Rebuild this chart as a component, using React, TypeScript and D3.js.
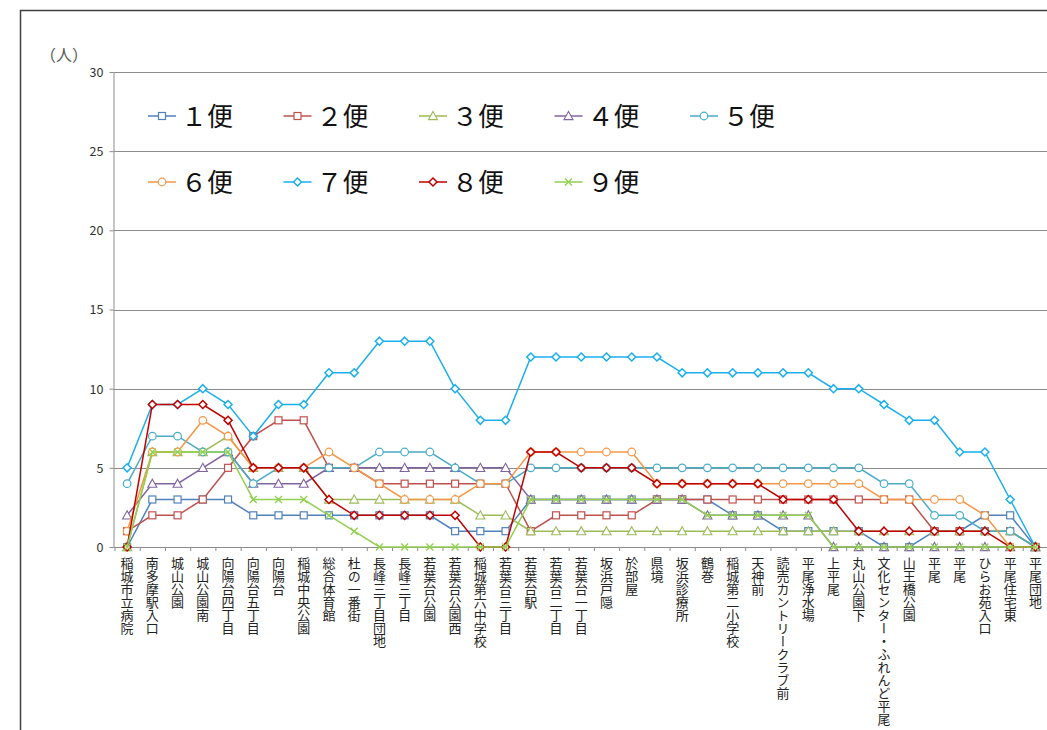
import React, { useEffect, useRef } from 'react';
import * as d3 from 'd3';

const stops = [
  '稲城市立病院', '南多摩駅入口', '城山公園', '城山公園南', '向陽台四丁目', '向陽台五丁目', '向陽台',
  '稲城中央公園', '総合体育館', '杜の一番街', '長峰三丁目団地', '長峰三丁目', '若葉台公園', '若葉台公園西',
  '稲城第六中学校', '若葉台三丁目', '若葉台駅', '若葉台二丁目', '若葉台一丁目', '坂浜戸隠', '於部屋', '県境',
  '坂浜診療所', '鶴巻', '稲城第二小学校', '天神前', '読売カントリークラブ前', '平尾浄水場', '上平尾',
  '丸山公園下', '文化センター・ふれんど平尾', '山王橋公園', '平尾', '平尾 ', 'ひらお苑入口', '平尾住宅東', '平尾団地',
];

const bin1 = [0, 3, 3, 3, 3, 2, 2, 2, 2, 2, 2, 2, 2, 1, 1, 1, 3, 3, 3, 3, 3, 3, 3, 3, 2, 2, 1, 1, 1, 1, 0, 0, 1, 1, 2, 2, 0];
const bin2 = [1, 2, 2, 3, 5, 7, 8, 8, 5, 5, 4, 4, 4, 4, 4, 4, 1, 2, 2, 2, 2, 3, 3, 3, 3, 3, 3, 3, 3, 3, 3, 3, 1, 1, 1, 1, 0];
const bin3 = [0, 6, 6, 6, 7, 5, 5, 5, 3, 3, 3, 3, 3, 3, 2, 2, 1, 1, 1, 1, 1, 1, 1, 1, 1, 1, 1, 1, 1, 1, 1, 1, 1, 1, 1, 1, 0];
const bin4 = [2, 4, 4, 5, 6, 4, 4, 4, 5, 5, 5, 5, 5, 5, 5, 5, 3, 3, 3, 3, 3, 3, 3, 2, 2, 2, 2, 2, 0, 0, 0, 0, 0, 0, 0, 0, 0];
const bin5 = [4, 7, 7, 6, 6, 4, 5, 5, 5, 5, 6, 6, 6, 5, 4, 4, 5, 5, 5, 5, 5, 5, 5, 5, 5, 5, 5, 5, 5, 5, 4, 4, 2, 2, 1, 1, 0];
const bin6 = [1, 6, 6, 8, 7, 5, 5, 5, 6, 5, 4, 3, 3, 3, 4, 4, 6, 6, 6, 6, 6, 4, 4, 4, 4, 4, 4, 4, 4, 4, 3, 3, 3, 3, 2, 0, 0];
const bin7 = [5, 9, 9, 10, 9, 7, 9, 9, 11, 11, 13, 13, 13, 10, 8, 8, 12, 12, 12, 12, 12, 12, 11, 11, 11, 11, 11, 11, 10, 10, 9, 8, 8, 6, 6, 3, 0];
const bin8 = [0, 9, 9, 9, 8, 5, 5, 5, 3, 2, 2, 2, 2, 2, 0, 0, 6, 6, 5, 5, 5, 4, 4, 4, 4, 4, 3, 3, 3, 1, 1, 1, 1, 1, 1, 0, 0];
const bin9 = [0, 6, 6, 6, 6, 3, 3, 3, 2, 1, 0, 0, 0, 0, 0, 0, 3, 3, 3, 3, 3, 3, 3, 2, 2, 2, 2, 2, 0, 0, 0, 0, 0, 0, 0, 0, 0];

const seriesNames = ['１便', '２便', '３便', '４便', '５便', '６便', '７便', '８便', '９便'];
const seriesValues = [bin1, bin2, bin3, bin4, bin5, bin6, bin7, bin8, bin9];
const seriesColors = ['#4F81BD', '#C0504D', '#9BBB59', '#8064A2', '#4BACC6', '#F79646', '#1AAFEF', '#C00000', '#92D050'];
const seriesMarkers = ['square', 'square', 'triangle', 'triangle', 'circle', 'circle', 'diamond', 'diamond', 'cross'];
const yTicks = [0, 5, 10, 15, 20, 25, 30];

const FONT = '"Noto Sans CJK JP", "Noto Sans", sans-serif';

function drawMarker(g: any, kind: string, cx: number, cy: number, color: string, size = 1) {
  if (kind === 'square') {
    const s = 7 * size;
    g.append('rect').attr('x', cx - s / 2).attr('y', cy - s / 2).attr('width', s).attr('height', s)
      .attr('fill', '#fff').attr('stroke', color).attr('stroke-width', 1.2);
  } else if (kind === 'circle') {
    g.append('circle').attr('cx', cx).attr('cy', cy).attr('r', 3.8 * size)
      .attr('fill', '#fff').attr('stroke', color).attr('stroke-width', 1.2);
  } else if (kind === 'triangle') {
    const s = 4.5 * size;
    g.append('path').attr('d', `M${cx},${cy - s} L${cx + s},${cy + s * 0.8} L${cx - s},${cy + s * 0.8} Z`)
      .attr('fill', '#fff').attr('stroke', color).attr('stroke-width', 1.1);
  } else if (kind === 'diamond') {
    const s = 4 * size;
    g.append('path').attr('d', `M${cx},${cy - s} L${cx + s},${cy} L${cx},${cy + s} L${cx - s},${cy} Z`)
      .attr('fill', '#fff').attr('stroke', color).attr('stroke-width', 1.5);
  } else {
    const s = 3.5 * size;
    g.append('path').attr('d', `M${cx - s},${cy - s} L${cx + s},${cy + s} M${cx - s},${cy + s} L${cx + s},${cy - s}`)
      .attr('fill', 'none').attr('stroke', color).attr('stroke-width', 1.3);
  }
}

const App: React.FC = () => {
  const svgRef = useRef<SVGSVGElement | null>(null);

  useEffect(() => {
    const svg = d3.select(svgRef.current);
    svg.selectAll('*').remove();

    const left = 113.5;
    const right = 1048;
    const top = 72;
    const bottom = 547;

    const x = d3.scaleBand<string>().domain(stops).range([left + 1, right]);
    const y = d3.scaleLinear().domain([0, 30]).range([bottom, top]);
    const cx = (i: number) => (x(stops[i]) as number) + x.bandwidth() / 2;

    svg.append('rect').attr('width', 1047).attr('height', 730).attr('fill', '#fff');

    // outer frame (runs off the page on the right and bottom)
    svg.append('rect').attr('x', 20.5).attr('y', 10.5).attr('width', 1100).attr('height', 800)
      .attr('fill', 'none').attr('stroke', '#404040').attr('stroke-width', 1.5);

    // grid
    svg.append('g').selectAll('line').data(yTicks.filter(t => t > 0)).enter().append('line')
      .attr('x1', left).attr('x2', right).attr('y1', d => Math.round(y(d)) + 0.5).attr('y2', d => Math.round(y(d)) + 0.5)
      .attr('stroke', '#8c8c8c').attr('stroke-width', 1);

    // y axis
    const yAxis = svg.append('g').attr('transform', `translate(${left},0)`)
      .call(d3.axisLeft(y).tickValues(yTicks).tickSize(4).tickSizeOuter(0));
    yAxis.select('.domain').attr('stroke', '#8c8c8c');
    yAxis.selectAll('line').attr('stroke', '#8c8c8c');
    yAxis.selectAll('text').attr('font-family', FONT).attr('font-size', 12.5).attr('fill', '#333')
      .attr('x', -10).attr('dy', '0.35em');

    // x axis
    svg.append('line').attr('x1', left).attr('x2', right).attr('y1', bottom + 0.5).attr('y2', bottom + 0.5)
      .attr('stroke', '#8c8c8c');
    svg.append('g').selectAll('line').data(stops.map((_, i) => i).concat([stops.length])).enter().append('line')
      .attr('x1', i => (i < stops.length ? (x(stops[i]) as number) : right) + 0.5)
      .attr('x2', i => (i < stops.length ? (x(stops[i]) as number) : right) + 0.5)
      .attr('y1', bottom).attr('y2', bottom + 4).attr('stroke', '#8c8c8c');

    svg.append('g').selectAll('text').data(stops).enter().append('text')
      .attr('x', (d, i) => cx(i))
      .attr('y', bottom + 10)
      .attr('font-family', FONT).attr('font-size', 13).attr('fill', '#222')
      .style('writing-mode', 'vertical-rl')
      .style('text-orientation', 'upright')
      .text(d => d.trim());

    // unit label
    svg.append('text').attr('x', 40).attr('y', 61).attr('font-family', FONT).attr('font-size', 16)
      .attr('fill', '#595959').text('（人）');

    // series
    const line = d3.line<number>().x((d, i) => cx(i)).y(d => y(d));
    seriesValues.forEach((vals, s) => {
      const g = svg.append('g');
      g.append('path').attr('d', line(vals) as string).attr('fill', 'none')
        .attr('stroke', seriesColors[s]).attr('stroke-width', 1.5);
      vals.forEach((v, i) => drawMarker(g, seriesMarkers[s], cx(i), y(v), seriesColors[s]));
    });

    // legend
    const legend = svg.append('g');
    seriesNames.forEach((name, s) => {
      const row = s < 5 ? 0 : 1;
      const col = s < 5 ? s : s - 5;
      const lx = 148 + col * 135.5;
      const ly = row === 0 ? 116 : 182;
      legend.append('line').attr('x1', lx).attr('x2', lx + 28).attr('y1', ly).attr('y2', ly)
        .attr('stroke', seriesColors[s]).attr('stroke-width', 1.5);
      drawMarker(legend, seriesMarkers[s], lx + 14, ly, seriesColors[s]);
      legend.append('text').attr('x', lx + 33).attr('y', ly + 9.5)
        .attr('font-family', FONT).attr('font-size', 26).attr('fill', '#111').text(name);
    });
  }, []);

  return (
    <div>
      <svg ref={svgRef} width={1047} height={730} style={{ position: 'absolute', left: 0, top: 0 }} />
    </div>
  );
};

export default App;
